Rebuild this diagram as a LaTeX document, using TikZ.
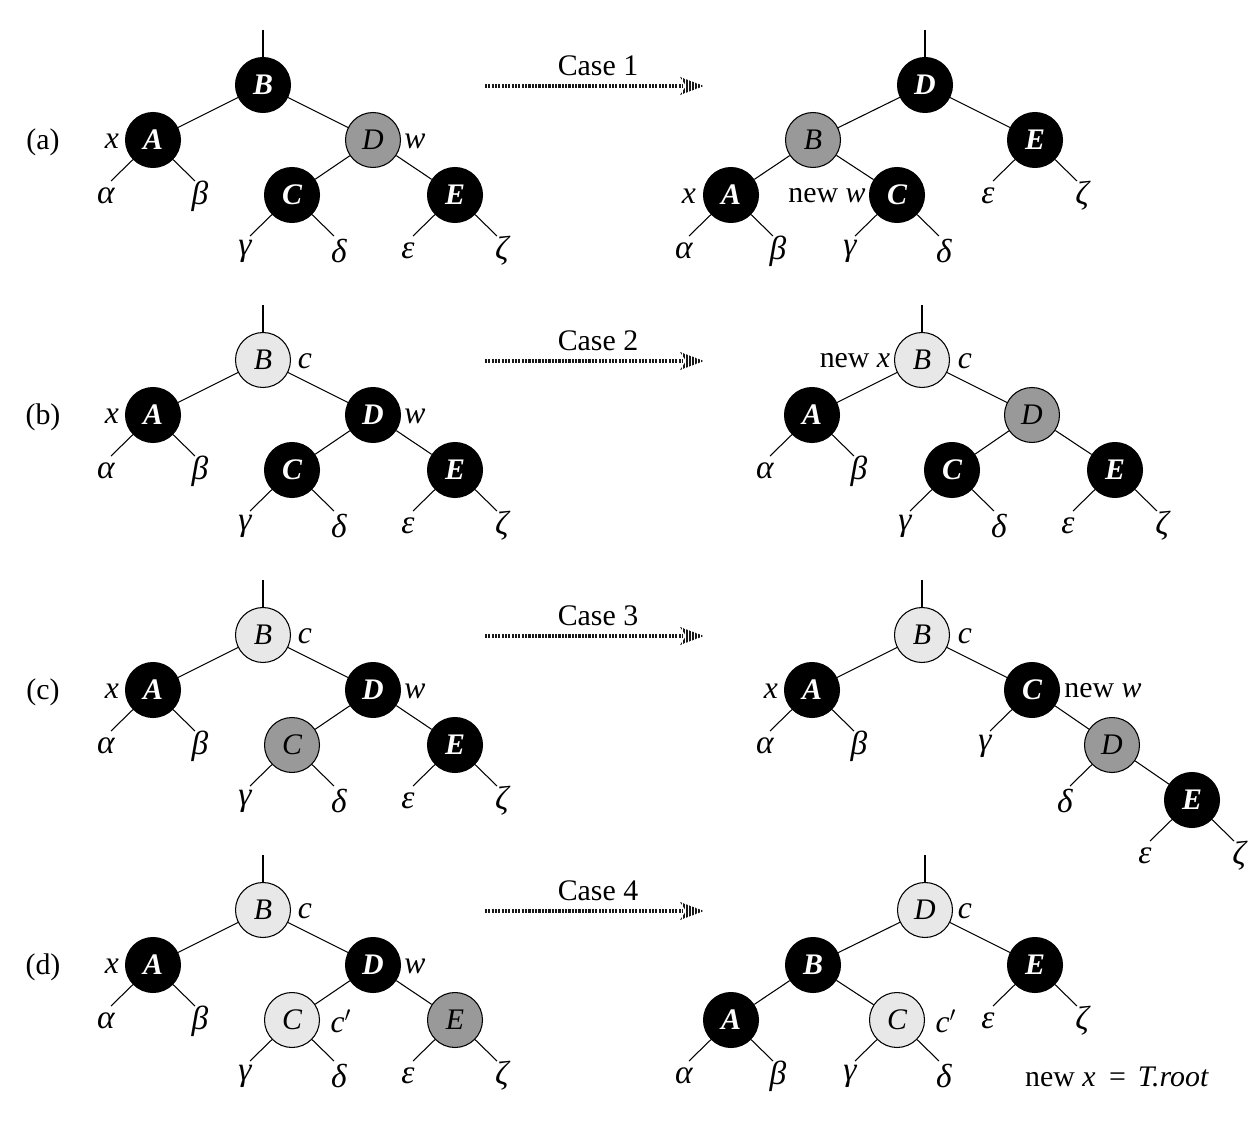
\documentclass[tikz,border=0pt]{standalone}
\usepackage{fontspec}
\setmainfont{Liberation Serif}
\usetikzlibrary{calc}
\tikzset{
 nd/.style={circle,draw=black,line width=0.6pt,minimum size=1.1cm,inner sep=0pt,font=\fontsize{17}{18}\selectfont\itshape},
 blk/.style={nd,fill=black,text=white,font=\fontsize{17}{18}\selectfont\bfseries\itshape},
 gry/.style={nd,fill=black!40},
 lgt/.style={nd,fill=black!9},
 edge/.style={line width=0.6pt},
 lbl/.style={font=\fontsize{18}{20}\selectfont\itshape,inner sep=0pt},
 grk/.style={font=\fontsize{19}{20}\selectfont\itshape,inner sep=0pt},
 txt/.style={font=\fontsize{17}{18}\selectfont,inner sep=0pt},
 dotline/.style={line width=2pt,black!90,dash pattern=on 1.2pt off 0.7pt},
}
\newcommand\leaf[4]{%
 \coordinate (#3) at ($(#1)+(#2*42,41)$);
 \node[grk] (#3t) at ($(#1)+(#2*47,56)$) {#4};
 \draw[edge] (#1) -- (#3);}
\newcommand\casearrow[3]{% name, y, label
 \coordinate (#1s) at (485,#2);
 \coordinate (#1e) at (704,#2);
 \node[txt] (#1t) at (598,#2-20) {#3};
 \draw[dotline] (#1s) -- ($(#1e)+(-21,0)$);
 \begin{scope}
 \clip ($(#1e)+(-24,-9)$) -- (#1e) -- ($(#1e)+(-24,9)$) -- ($(#1e)+(-18,0)$) -- cycle;
 \foreach \k in {0,...,8} \draw[line width=1.2pt,black!90] ($(#1e)+(-23+3*\k,-10)$) -- ($(#1e)+(-23+3*\k,10)$);
 \end{scope}}
\begin{document}
\begin{tikzpicture}[x=0.02cm,y=-0.02cm]
\useasboundingbox (0,0) rectangle (1259,1122);
% row labels
\node[txt] (la) at (43,142) {(a)};
\node[txt] (lb) at (43,417) {(b)};
\node[txt] (lc) at (43,692) {(c)};
\node[txt] (ld) at (43,967) {(d)};
% arrows
\casearrow{ca}{86}{Case 1}
\casearrow{cb}{361}{Case 2}
\casearrow{cc}{636}{Case 3}
\casearrow{cd}{911}{Case 4}

% ===== (a) left
\node[blk] (aLB) at (263,85) {B};
\node[blk] (aLA) at (153,140) {A};
\node[gry] (aLD) at (373,140) {D};
\node[blk] (aLC) at (292,195) {C};
\node[blk] (aLE) at (455,195) {E};
\coordinate (aLtop) at (263,30);
\draw[edge] (aLtop) -- (aLB);
\draw[edge] (aLB) -- (aLA);
\draw[edge] (aLB) -- (aLD);
\draw[edge] (aLD) -- (aLC);
\draw[edge] (aLD) -- (aLE);
\node[lbl] (aLx) at (112,141) {x};
\node[lbl] (aLw) at (415,141) {w};
\leaf{aLA}{-1}{aLal}{α}
\leaf{aLA}{1}{aLbe}{β}
\leaf{aLC}{-1}{aLga}{γ}
\leaf{aLC}{1}{aLde}{δ}
\leaf{aLE}{-1}{aLep}{ε}
\leaf{aLE}{1}{aLze}{ζ}

% ===== (a) right
\node[blk] (aRD) at (925,85) {D};
\node[gry] (aRB) at (813,140) {B};
\node[blk] (aRE) at (1035,140) {E};
\node[blk] (aRA) at (731,195) {A};
\node[blk] (aRC) at (897,195) {C};
\coordinate (aRtop) at (925,30);
\draw[edge] (aRtop) -- (aRD);
\draw[edge] (aRD) -- (aRB);
\draw[edge] (aRD) -- (aRE);
\draw[edge] (aRB) -- (aRA);
\draw[edge] (aRB) -- (aRC);
\node[lbl] (aRx) at (689,196) {x};
\node[txt] (aRw) at (827,196) {new \textit{w}};
\leaf{aRA}{-1}{aRal}{α}
\leaf{aRA}{1}{aRbe}{β}
\leaf{aRC}{-1}{aRga}{γ}
\leaf{aRC}{1}{aRde}{δ}
\leaf{aRE}{-1}{aRep}{ε}
\leaf{aRE}{1}{aRze}{ζ}

% ===== (b) left
\node[lgt] (bLB) at (263,360) {B};
\node[blk] (bLA) at (153,415) {A};
\node[blk] (bLD) at (373,415) {D};
\node[blk] (bLC) at (292,470) {C};
\node[blk] (bLE) at (455,470) {E};
\coordinate (bLtop) at (263,305);
\draw[edge] (bLtop) -- (bLB);
\draw[edge] (bLB) -- (bLA);
\draw[edge] (bLB) -- (bLD);
\draw[edge] (bLD) -- (bLC);
\draw[edge] (bLD) -- (bLE);
\node[lbl] (bLc) at (305,361) {c};
\node[lbl] (bLx) at (112,416) {x};
\node[lbl] (bLw) at (415,416) {w};
\leaf{bLA}{-1}{bLal}{α}
\leaf{bLA}{1}{bLbe}{β}
\leaf{bLC}{-1}{bLga}{γ}
\leaf{bLC}{1}{bLde}{δ}
\leaf{bLE}{-1}{bLep}{ε}
\leaf{bLE}{1}{bLze}{ζ}

% ===== (b) right
\node[lgt] (bRB) at (922,360) {B};
\node[blk] (bRA) at (812,415) {A};
\node[gry] (bRD) at (1032,415) {D};
\node[blk] (bRC) at (952,470) {C};
\node[blk] (bRE) at (1115,470) {E};
\coordinate (bRtop) at (922,305);
\draw[edge] (bRtop) -- (bRB);
\draw[edge] (bRB) -- (bRA);
\draw[edge] (bRB) -- (bRD);
\draw[edge] (bRD) -- (bRC);
\draw[edge] (bRD) -- (bRE);
\node[txt] (bRx) at (855,361) {new \textit{x}};
\node[lbl] (bRc) at (965,361) {c};
\leaf{bRA}{-1}{bRal}{α}
\leaf{bRA}{1}{bRbe}{β}
\leaf{bRC}{-1}{bRga}{γ}
\leaf{bRC}{1}{bRde}{δ}
\leaf{bRE}{-1}{bRep}{ε}
\leaf{bRE}{1}{bRze}{ζ}

% ===== (c) left
\node[lgt] (cLB) at (263,635) {B};
\node[blk] (cLA) at (153,690) {A};
\node[blk] (cLD) at (373,690) {D};
\node[gry] (cLC) at (292,745) {C};
\node[blk] (cLE) at (455,745) {E};
\coordinate (cLtop) at (263,580);
\draw[edge] (cLtop) -- (cLB);
\draw[edge] (cLB) -- (cLA);
\draw[edge] (cLB) -- (cLD);
\draw[edge] (cLD) -- (cLC);
\draw[edge] (cLD) -- (cLE);
\node[lbl] (cLc) at (305,636) {c};
\node[lbl] (cLx) at (112,691) {x};
\node[lbl] (cLw) at (415,691) {w};
\leaf{cLA}{-1}{cLal}{α}
\leaf{cLA}{1}{cLbe}{β}
\leaf{cLC}{-1}{cLga}{γ}
\leaf{cLC}{1}{cLde}{δ}
\leaf{cLE}{-1}{cLep}{ε}
\leaf{cLE}{1}{cLze}{ζ}

% ===== (c) right
\node[lgt] (cRB) at (922,635) {B};
\node[blk] (cRA) at (812,690) {A};
\node[blk] (cRC) at (1032,690) {C};
\node[gry] (cRD) at (1112,745) {D};
\node[blk] (cRE) at (1192,800) {E};
\coordinate (cRtop) at (922,580);
\draw[edge] (cRtop) -- (cRB);
\draw[edge] (cRB) -- (cRA);
\draw[edge] (cRB) -- (cRC);
\draw[edge] (cRC) -- (cRD);
\draw[edge] (cRD) -- (cRE);
\node[lbl] (cRc) at (965,636) {c};
\node[lbl] (cRx) at (771,691) {x};
\node[txt] (cRw) at (1103,691) {new \textit{w}};
\leaf{cRA}{-1}{cRal}{α}
\leaf{cRA}{1}{cRbe}{β}
\leaf{cRC}{-1}{cRga}{γ}
\leaf{cRD}{-1}{cRde}{δ}
\leaf{cRE}{-1}{cRep}{ε}
\leaf{cRE}{1}{cRze}{ζ}

% ===== (d) left
\node[lgt] (dLB) at (263,910) {B};
\node[blk] (dLA) at (153,965) {A};
\node[blk] (dLD) at (373,965) {D};
\node[lgt] (dLC) at (292,1020) {C};
\node[gry] (dLE) at (455,1020) {E};
\coordinate (dLtop) at (263,855);
\draw[edge] (dLtop) -- (dLB);
\draw[edge] (dLB) -- (dLA);
\draw[edge] (dLB) -- (dLD);
\draw[edge] (dLD) -- (dLC);
\draw[edge] (dLD) -- (dLE);
\node[lbl] (dLc) at (305,911) {c};
\node[lbl] (dLx) at (112,966) {x};
\node[lbl] (dLw) at (415,966) {w};
\node[lbl] (dLcp) at (341,1021) {c$^{\prime}$};
\leaf{dLA}{-1}{dLal}{α}
\leaf{dLA}{1}{dLbe}{β}
\leaf{dLC}{-1}{dLga}{γ}
\leaf{dLC}{1}{dLde}{δ}
\leaf{dLE}{-1}{dLep}{ε}
\leaf{dLE}{1}{dLze}{ζ}

% ===== (d) right
\node[lgt] (dRD) at (925,910) {D};
\node[blk] (dRB) at (813,965) {B};
\node[blk] (dRE) at (1035,965) {E};
\node[blk] (dRA) at (731,1020) {A};
\node[lgt] (dRC) at (897,1020) {C};
\coordinate (dRtop) at (925,855);
\draw[edge] (dRtop) -- (dRD);
\draw[edge] (dRD) -- (dRB);
\draw[edge] (dRD) -- (dRE);
\draw[edge] (dRB) -- (dRA);
\draw[edge] (dRB) -- (dRC);
\node[lbl] (dRc) at (965,911) {c};
\node[lbl] (dRcp) at (946,1021) {c$^{\prime}$};
\leaf{dRA}{-1}{dRal}{α}
\leaf{dRA}{1}{dRbe}{β}
\leaf{dRC}{-1}{dRga}{γ}
\leaf{dRC}{1}{dRde}{δ}
\leaf{dRE}{-1}{dRep}{ε}
\leaf{dRE}{1}{dRze}{ζ}
\node[txt] (dRroot) at (1117,1077) {new \textit{x}\hspace{0.2em} = \hspace{0.15em}\textit{T.root}};
\end{tikzpicture}
\end{document}
